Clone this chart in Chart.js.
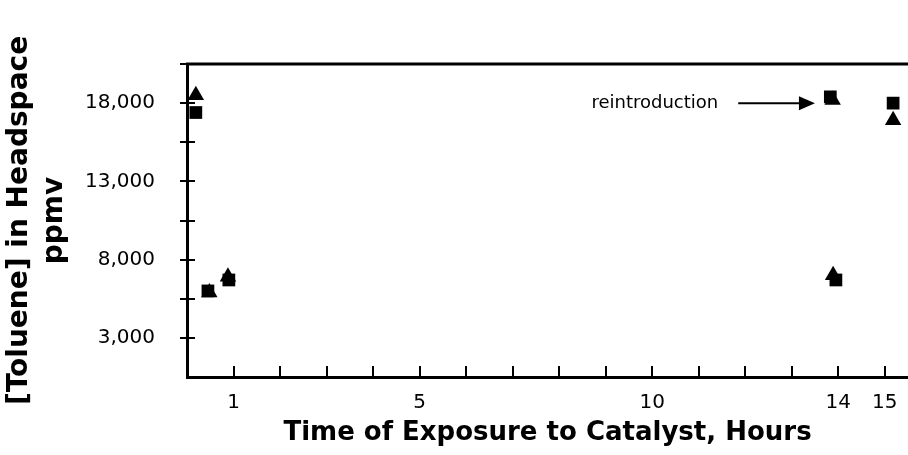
<!DOCTYPE html>
<html>
<head>
<meta charset="utf-8">
<script src="https://cdn.jsdelivr.net/npm/chart.js@4.4.1/dist/chart.umd.min.js"></script>
<style>
html,body{margin:0;padding:0;background:#fff;}
#wrap{width:908px;height:455px;position:relative;}
</style>
</head>
<body>
<div id="wrap"><canvas id="c" width="908" height="455"></canvas></div>
<script>
// ---- data ----
const squareTimes = [0.19, 0.45, 0.9, 13.83, 13.95, 15.18];
const squareValues = [17400, 6000, 6700, 18400, 6700, 18000];
const triangleTimes = [0.19, 0.48, 0.88, 13.88, 13.89, 15.18];
const triangleValues = [18500, 5900, 6900, 18200, 7000, 16900];
const xTickValues = [1,2,3,4,5,6,7,8,9,10,11,12,13,14,15];
const xLabelled = [1, 5, 10, 14, 15];
const yTickValues = [500, 3000, 5500, 8000, 10500, 13000, 15500, 18000, 20500];
const yLabelled = [3000, 8000, 13000, 18000];
const annotationText = 'reintroduction';

const toPts = (xs, ys) => xs.map((x, i) => ({x: x, y: ys[i]}));

const framePlugin = {
  id: 'frame',
  afterDraw(chart) {
    const ctx = chart.ctx;
    const a = chart.chartArea;
    const xs = chart.scales.x, ys = chart.scales.y;
    ctx.save();
    ctx.strokeStyle = '#000';
    // top line
    ctx.lineWidth = 3;
    ctx.beginPath();
    ctx.moveTo(a.left - 1, a.top);
    ctx.lineTo(chart.width, a.top);
    ctx.stroke();
    // x ticks (inside)
    ctx.lineWidth = 2;
    xs.ticks.forEach(t => {
      const px = Math.round(xs.getPixelForValue(t.value));
      ctx.beginPath();
      ctx.moveTo(px, a.bottom);
      ctx.lineTo(px, a.bottom - 11);
      ctx.stroke();
    });
    // y ticks (crossing)
    ys.ticks.forEach(t => {
      if (t.value === ys.min) return;
      const py = Math.round(ys.getPixelForValue(t.value));
      ctx.beginPath();
      ctx.moveTo(a.left - 7, py);
      ctx.lineTo(a.left + 8, py);
      ctx.stroke();
    });
    // annotation
    const ty = ys.getPixelForValue(18000);
    ctx.fillStyle = '#000';
    ctx.font = '18px "DejaVu Sans"';
    ctx.textAlign = 'right';
    ctx.textBaseline = 'middle';
    ctx.fillText(annotationText, xs.getPixelForValue(11.42), ty);
    const x0 = xs.getPixelForValue(11.85), x1 = xs.getPixelForValue(13.5);
    ctx.lineWidth = 2;
    ctx.beginPath();
    ctx.moveTo(x0, ty);
    ctx.lineTo(x1 - 14, ty);
    ctx.stroke();
    ctx.beginPath();
    ctx.moveTo(x1, ty);
    ctx.lineTo(x1 - 16, ty - 7);
    ctx.lineTo(x1 - 16, ty + 7);
    ctx.closePath();
    ctx.fill();
    ctx.restore();
  }
};

new Chart(document.getElementById('c'), {
  type: 'scatter',
  data: {
    datasets: [
      {
        label: 'Squares',
        data: toPts(squareTimes, squareValues),
        pointStyle: 'rect',
        pointRadius: 9,
        pointHoverRadius: 9,
        backgroundColor: '#000',
        borderColor: '#000',
        borderWidth: 0
      },
      {
        label: 'Triangles',
        data: toPts(triangleTimes, triangleValues),
        pointStyle: 'triangle',
        pointRadius: 9.5,
        pointHoverRadius: 9.5,
        backgroundColor: '#000',
        borderColor: '#000',
        borderWidth: 0
      }
    ]
  },
  options: {
    responsive: false,
    animation: false,
    events: [],
    layout: { autoPadding: false, padding: { top: 64, right: 0, left: 2, bottom: 6 } },
    plugins: { legend: { display: false }, tooltip: { enabled: false } },
    scales: {
      x: {
        type: 'linear',
        min: 0,
        max: 15.5,
        afterBuildTicks: s => { s.ticks = xTickValues.map(v => ({value: v})); },
        afterFit: s => { s.height = 72; s.paddingRight = 0; s.paddingLeft = 0; },
        ticks: {
          autoSkip: false,
          maxRotation: 0,
          padding: 2,
          color: '#000',
          font: { family: '"DejaVu Sans"', size: 20 },
          callback: v => xLabelled.includes(v) ? String(v) : ''
        },
        grid: { display: true, drawOnChartArea: false, drawTicks: true, tickLength: 12, color: 'rgba(0,0,0,0)' },
        border: { display: true, color: '#000', width: 3 },
        title: {
          display: true,
          text: 'Time of Exposure to Catalyst, Hours',
          color: '#000',
          font: { family: '"DejaVu Sans"', size: 26, weight: 'bold' },
          padding: { top: 2, bottom: 0 }
        }
      },
      y: {
        type: 'linear',
        min: 500,
        max: 20500,
        afterBuildTicks: s => { s.ticks = yTickValues.map(v => ({value: v})); },
        afterFit: s => { s.width = 185; },
        ticks: {
          autoSkip: false,
          padding: 32,
          color: '#000',
          font: { family: '"DejaVu Sans"', size: 20 },
          callback: v => yLabelled.includes(v) ? v.toLocaleString('en-US') : ''
        },
        grid: { display: true, drawOnChartArea: false, drawTicks: false, color: 'rgba(0,0,0,0)' },
        border: { display: true, color: '#000', width: 3 },
        title: {
          display: true,
          text: ['[Toluene] in Headspace', 'ppmv'],
          color: '#000',
          font: { family: '"DejaVu Sans"', size: 28, weight: 'bold', lineHeight: 1.25 },
          padding: { top: 0, bottom: 6 }
        }
      }
    }
  },
  plugins: [framePlugin]
});
</script>
</body>
</html>
